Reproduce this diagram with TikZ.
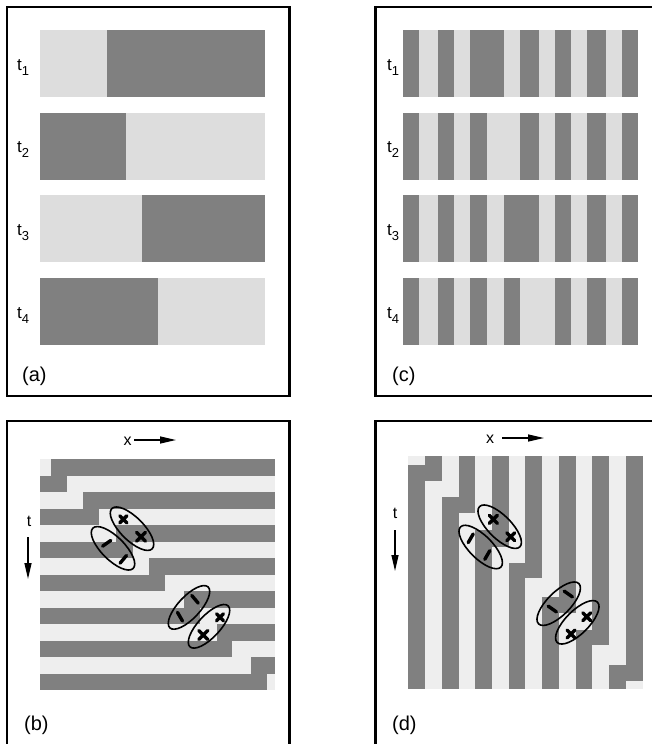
\documentclass[tikz,border=0pt]{standalone}
\usepackage{fontspec}
\setmainfont{Liberation Sans}
\usetikzlibrary{arrows.meta}
\definecolor{dk}{HTML}{808080}
\definecolor{ltA}{HTML}{DDDDDD}
\definecolor{ltB}{HTML}{EEEEEE}
\newcommand\tsub[1]{t\raisebox{-5pt}{\fontsize{13}{13}\selectfont #1}}
\tikzset{
  frame/.style={line width=2.3pt},
  ring/.style={line width=1.6pt},
  mk/.style={line width=3.4pt, line cap=round},
  axarrow/.style={line width=1.4pt, -{Triangle[length=16pt,width=7pt]}},
  tlab/.style={font=\fontsize{17}{20}\selectfont, inner sep=0pt},
  plab/.style={font=\fontsize{20}{24}\selectfont, inner sep=0pt, anchor=west},
  alab/.style={font=\fontsize{16}{19}\selectfont, inner sep=0pt},
}
% heavy cross mark
\newcommand\crossmk[3]{\draw[mk] (#1-#3,#2-#3) -- (#1+#3,#2+#3) (#1-#3,#2+#3) -- (#1+#3,#2-#3);}
% short bar mark, tilted by #3 degrees
\newcommand\barmk[3]{\draw[mk, rotate around={#3:(#1,#2)}] (#1-5,#2) -- (#1+5,#2);}
\begin{document}
\begin{tikzpicture}[x=1pt,y=-1pt]
\useasboundingbox (0,0) rectangle (652,744);

% ---------- panel frames ----------
\draw[frame] (7,7) rectangle (289.5,396);
\draw[frame] (375.5,7) rectangle (680,396);
\draw[frame] (7,421) rectangle (289.5,770);
\draw[frame] (375.5,421) rectangle (680,770);

% ---------- (a): a single moving wall ----------
\foreach \r/\b/\lf in {0/106.7/1, 1/126/0, 2/142/1, 3/158/0} {
  \pgfmathsetmacro\yt{30+82.67*\r}
  \pgfmathsetmacro\yb{\yt+67}
  \fill[ltA] (40,\yt) rectangle (265,\yb);
  \ifnum\lf=1
    \fill[dk] (\b,\yt) rectangle (265,\yb);
  \else
    \fill[dk] (40,\yt) rectangle (\b,\yb);
  \fi
  \node[tlab, anchor=base west] (ta\r) at (17,\yt+40) {\tsub{\the\numexpr\r+1\relax}};
}
\node[plab] (la) at (22,376) {(a)};

% ---------- (c): stripes with a travelling phase slip ----------
\foreach \r in {0,1,2,3} {
  \pgfmathsetmacro\yt{30+82.67*\r}
  \pgfmathsetmacro\yb{\yt+67}
  \fill[ltA] (402.7,\yt) rectangle (637.7,\yb);
  \foreach \s/\xa/\xb in {0/402.7/419.3, 1/419.3/438, 2/438/454, 3/454/470,
      4/470/487.3, 5/487.3/504, 6/504/520, 7/520/539, 8/539/555, 9/555/571,
      10/571/587, 11/587/606, 12/606/622, 13/622/637.7} {
    \pgfmathtruncatemacro\dkq{(\s<5+\r)==(mod(\s,2)==0)}
    \ifnum\dkq=1 \fill[dk] (\xa,\yt) rectangle (\xb,\yb); \fi
  }
  \node[tlab, anchor=base west] (tc\r) at (387,\yt+40) {\tsub{\the\numexpr\r+1\relax}};
}
\node[plab] (lc) at (392,376) {(c)};

% ---------- (b): space-time plot, horizontal stripes ----------
\fill[ltB] (40,459) rectangle (275,690);
\foreach \i/\b in {0/50.7, 1/66.7, 2/82.7, 3/99, 4/116, 5/133, 6/149, 7/165,
    8/184, 9/200, 10/216.7, 11/231.7, 12/250.7, 13/266.7} {
  \pgfmathsetmacro\yt{459+16.5*\i}
  \pgfmathsetmacro\yb{\yt+16.5}
  \ifodd\i
    \fill[dk] (40,\yt) rectangle (\b,\yb);
  \else
    \fill[dk] (\b,\yt) rectangle (275,\yb);
  \fi
}
\draw[ring, rotate around={-45:(132,528.7)}] (132,528.7) ellipse [x radius=28.5pt, y radius=11.5pt];
\draw[ring, rotate around={-45:(113,548.3)}] (113,548.3) ellipse [x radius=28.5pt, y radius=11.5pt];
\draw[ring, rotate around={47:(189,607.4)}] (189,607.4) ellipse [x radius=28pt, y radius=11pt];
\draw[ring, rotate around={47:(209,626.3)}] (209,626.3) ellipse [x radius=28pt, y radius=11pt];
\crossmk{123.3}{519.3}{3.5}
\crossmk{141}{536.7}{4.5}
\barmk{106.7}{543.3}{35}
\barmk{123.3}{559.3}{50}
\barmk{195}{599.3}{-50}
\barmk{180}{616.7}{-60}
\crossmk{220}{617.3}{3.5}
\crossmk{203.3}{635}{4.5}

\coordinate (bx0) at (134,440);
\coordinate (bx1) at (176,440);
\node[alab] (bxl) at (127.5,441) {x};
\draw[axarrow] (bx0) -- (bx1);
\coordinate (bt0) at (28,537);
\coordinate (bt1) at (28,579);
\node[alab] (btl) at (29,521) {t};
\draw[axarrow] (bt0) -- (bt1);
\node[plab] (lb) at (24,725) {(b)};

% ---------- (d): space-time plot, vertical stripes ----------
\fill[ltB] (408.3,456) rectangle (642.7,689);
\foreach \j/\d in {0/465, 1/480.7, 2/497.3, 3/513.3, 4/530, 5/546.7, 6/563.3,
    7/578.3, 8/596.7, 9/613.3, 10/630, 11/645, 12/665, 13/680.7} {
  \pgfmathsetmacro\xl{408.3+16.74*\j}
  \pgfmathsetmacro\xr{\xl+16.74}
  \ifodd\j
    \fill[dk] (\xl,456) rectangle (\xr,\d);
  \else
    \fill[dk] (\xl,\d) rectangle (\xr,689);
  \fi
}
\draw[ring, rotate around={-45:(499.7,526.7)}] (499.7,526.7) ellipse [x radius=28.5pt, y radius=11.5pt];
\draw[ring, rotate around={-45:(480.7,547)}] (480.7,547) ellipse [x radius=28.5pt, y radius=11.5pt];
\draw[ring, rotate around={45:(558.7,603.7)}] (558.7,603.7) ellipse [x radius=28.5pt, y radius=11.5pt];
\draw[ring, rotate around={45:(577.3,622.3)}] (577.3,622.3) ellipse [x radius=28.5pt, y radius=11.5pt];
\crossmk{493.3}{519.3}{4}
\crossmk{510.7}{536.7}{4}
\barmk{470.7}{538.3}{60}
\barmk{487.3}{555}{60}
\barmk{568.3}{594}{-35}
\barmk{552.3}{609}{-35}
\crossmk{586.7}{616.7}{4}
\crossmk{571}{634}{4}

\coordinate (dx0) at (502,438);
\coordinate (dx1) at (544,438);
\node[alab] (dxl) at (490,439) {x};
\draw[axarrow] (dx0) -- (dx1);
\coordinate (dt0) at (395,530);
\coordinate (dt1) at (395,571);
\node[alab] (dtl) at (395,513) {t};
\draw[axarrow] (dt0) -- (dt1);
\node[plab] (ld) at (392,725) {(d)};
\end{tikzpicture}
\end{document}
